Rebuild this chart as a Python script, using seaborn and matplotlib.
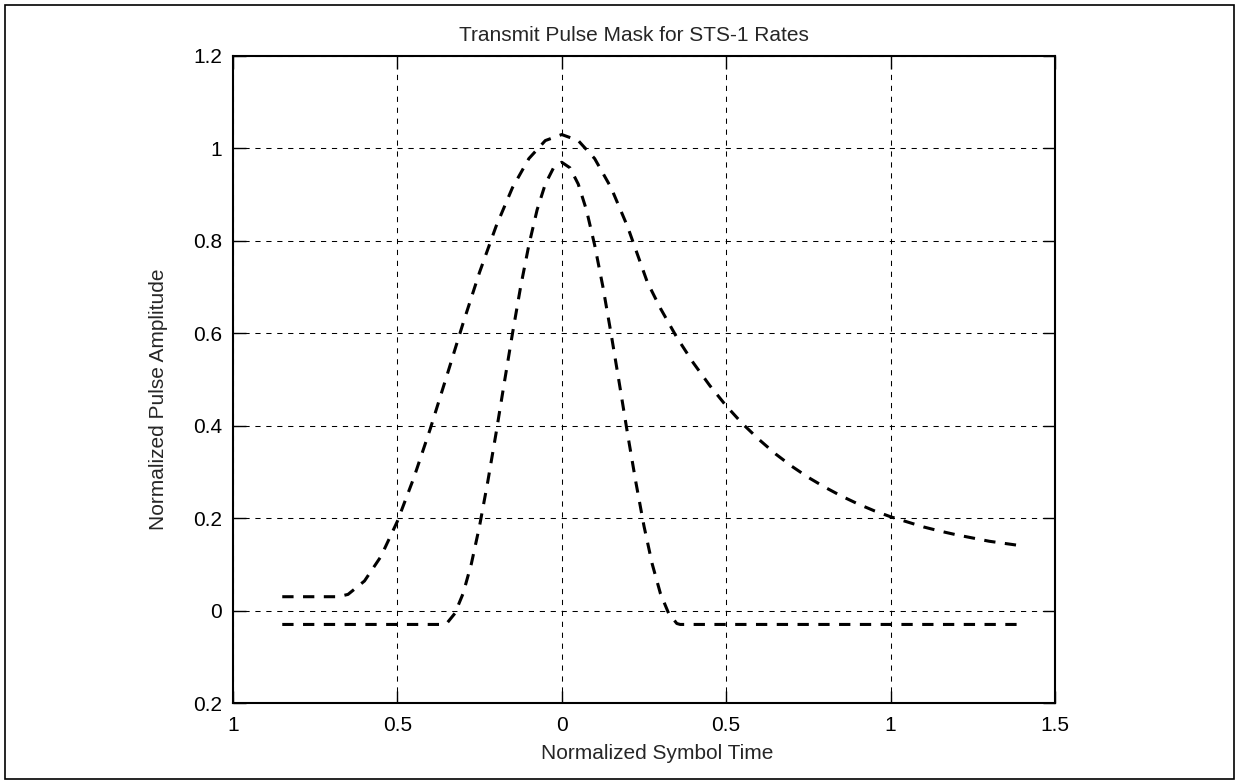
"""
Transmit pulse mask for STS-1 rates, redrawn with seaborn.
"""

import matplotlib
matplotlib.use("Agg")
import matplotlib.pyplot as plt
import seaborn as sns
import pandas as pd
from matplotlib.patches import Rectangle

# Upper mask boundary (normalized time, amplitude)
upper_t = [-0.85, -0.68, -0.65, -0.60, -0.55, -0.50, -0.45, -0.40, -0.35,
           -0.30, -0.25, -0.20, -0.15, -0.10, -0.05, 0.00, 0.05, 0.10,
           0.15, 0.20, 0.26, 0.30, 0.35, 0.40, 0.45, 0.50, 0.55, 0.60,
           0.65, 0.70, 0.75, 0.80, 0.85, 0.90, 0.95, 1.00, 1.05, 1.10,
           1.15, 1.20, 1.25, 1.30, 1.35, 1.40]
upper_a = [0.030, 0.030, 0.035, 0.064, 0.117, 0.193, 0.287, 0.393, 0.507,
           0.622, 0.732, 0.831, 0.915, 0.978, 1.017, 1.030, 1.017, 0.978,
           0.915, 0.831, 0.711, 0.654, 0.591, 0.536, 0.487, 0.443, 0.404,
           0.370, 0.339, 0.312, 0.288, 0.267, 0.248, 0.231, 0.216, 0.203,
           0.192, 0.181, 0.172, 0.164, 0.157, 0.150, 0.145, 0.140]

# Lower mask boundary
lower_t = [-0.85, -0.36, -0.35, -0.325, -0.30, -0.275, -0.25, -0.225,
           -0.20, -0.175, -0.15, -0.125, -0.10, -0.075, -0.05, -0.025,
           0.00, 0.025, 0.05, 0.075, 0.10, 0.125, 0.15, 0.175, 0.20,
           0.225, 0.25, 0.275, 0.30, 0.325, 0.35, 0.36, 1.40]
lower_a = [-0.030, -0.030, -0.028, -0.006, 0.037, 0.101, 0.183, 0.279,
           0.383, 0.492, 0.599, 0.701, 0.791, 0.867, 0.923, 0.958,
           0.970, 0.958, 0.923, 0.867, 0.791, 0.701, 0.599, 0.492, 0.383,
           0.279, 0.183, 0.101, 0.037, -0.006, -0.028, -0.030, -0.030]

# tick labels as printed (the minus signs are missing in the original)
x_ticks = [-1.0, -0.5, 0.0, 0.5, 1.0, 1.5]
x_labels = ["1", "0.5", "0", "0.5", "1", "1.5"]
y_ticks = [-0.2, 0.0, 0.2, 0.4, 0.6, 0.8, 1.0, 1.2]
y_labels = ["0.2", "0", "0.2", "0.4", "0.6", "0.8", "1", "1.2"]

sns.set_style("ticks")
plt.rcParams["font.family"] = ["Liberation Sans", "DejaVu Sans"]

fig = plt.figure(figsize=(12.39, 7.84), dpi=100)
ax = fig.add_axes([0.188, 0.1033, 0.6635, 0.8253])

upper = pd.DataFrame({"t": upper_t, "a": upper_a})
lower = pd.DataFrame({"t": lower_t, "a": lower_a})
sns.lineplot(data=upper, x="t", y="a", sort=False, ax=ax, color="black",
             linewidth=2.2, estimator=None)
sns.lineplot(data=lower, x="t", y="a", sort=False, ax=ax, color="black",
             linewidth=2.2, estimator=None)
for line in ax.lines:
    line.set_linestyle((0, (3.7, 3.1)))

ax.set_xlim(-1.0, 1.5)
ax.set_ylim(-0.2, 1.2)
ax.set_xticks(x_ticks)
ax.set_xticklabels(x_labels)
ax.set_yticks(y_ticks)
ax.set_yticklabels(y_labels)
ax.tick_params(direction="in", length=9, width=1, top=True, right=True,
               labelsize=15, colors="black")
ax.tick_params(axis="x", pad=9)
ax.tick_params(axis="y", pad=8)

ax.grid(True, color="black", linestyle=(0, (5, 5.5)), linewidth=0.75)
ax.set_axisbelow(True)
for side in ax.spines.values():
    side.set_linewidth(1.5)
    side.set_color("black")

ax.set_title("Transmit Pulse Mask for STS-1 Rates", fontsize=15, pad=11,
             x=0.488)
ax.set_xlabel("Normalized Symbol Time", fontsize=15, labelpad=7, x=0.516)
ax.set_ylabel("Normalized Pulse Amplitude", fontsize=15, labelpad=18, y=0.47)

# frame around the whole figure
fig.add_artist(Rectangle((0.004, 0.006), 0.992, 0.988,
                         transform=fig.transFigure, fill=False,
                         edgecolor="black", linewidth=1.2))

fig.savefig("out.png", dpi=100)
